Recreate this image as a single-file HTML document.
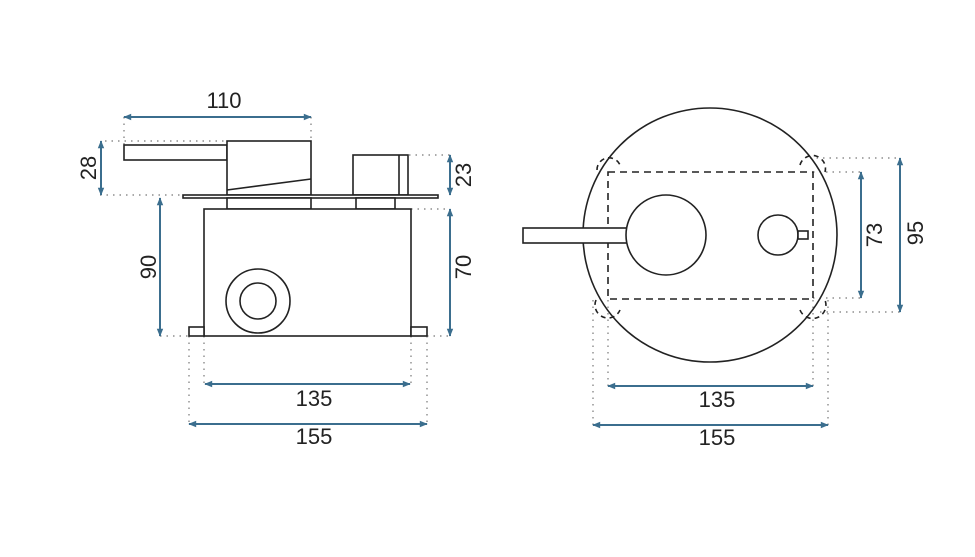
<!DOCTYPE html>
<html><head><meta charset="utf-8"><style>
html,body{margin:0;padding:0;background:#fff;}
svg{display:block;}
text{font-family:"Liberation Sans",sans-serif;font-size:22px;fill:#222;}
</style></head><body>
<svg width="975" height="557" viewBox="0 0 975 557" xmlns="http://www.w3.org/2000/svg">
<defs>
<marker id="a" viewBox="0 0 10 10" refX="9" refY="5" markerWidth="11" markerHeight="8" orient="auto-start-reverse" markerUnits="userSpaceOnUse">
<path d="M0,1 L10,5 L0,9 Z" fill="#3b6e8e"/></marker>
</defs>
<rect width="975" height="557" fill="#fff"/>
<g stroke="#777" stroke-width="1.2" stroke-dasharray="1.5 5" fill="none">
<line x1="124" y1="117" x2="124" y2="145"/>
<line x1="311" y1="117" x2="311" y2="141"/>
<line x1="105" y1="141" x2="227" y2="141"/>
<line x1="100" y1="195" x2="183" y2="195"/>
<line x1="409" y1="155" x2="450" y2="155"/>
<line x1="411" y1="209" x2="450" y2="209"/>
<line x1="160" y1="336" x2="189" y2="336"/>
<line x1="427" y1="336" x2="450" y2="336"/>
<line x1="189" y1="336" x2="189" y2="424"/>
<line x1="204" y1="336" x2="204" y2="384"/>
<line x1="411" y1="336" x2="411" y2="384"/>
<line x1="427" y1="336" x2="427" y2="424"/>
<line x1="810" y1="158" x2="901" y2="158"/>
<line x1="813" y1="172" x2="861" y2="172"/>
<line x1="813" y1="298" x2="861" y2="298"/>
<line x1="820" y1="312" x2="901" y2="312"/>
<line x1="593" y1="300" x2="593" y2="425"/>
<line x1="608" y1="300" x2="608" y2="386"/>
<line x1="813" y1="300" x2="813" y2="386"/>
<line x1="828" y1="300" x2="828" y2="425"/>
</g>
<g stroke="#3b6e8e" stroke-width="2" marker-start="url(#a)" marker-end="url(#a)">
<line x1="124" y1="117" x2="311" y2="117"/>
<line x1="101" y1="141" x2="101" y2="195"/>
<line x1="160" y1="198" x2="160" y2="336"/>
<line x1="450" y1="155" x2="450" y2="195"/>
<line x1="450" y1="209" x2="450" y2="336"/>
<line x1="205" y1="384" x2="410" y2="384"/>
<line x1="189" y1="424" x2="427" y2="424"/>
<line x1="861" y1="172" x2="861" y2="298"/>
<line x1="900" y1="158" x2="900" y2="312"/>
<line x1="608" y1="386" x2="813" y2="386"/>
<line x1="593" y1="425" x2="828" y2="425"/>
</g>
<g stroke="#222" stroke-width="1.6" fill="#fff">
<rect x="124" y="145" width="103" height="15"/>
<rect x="227" y="141" width="84" height="54"/>
<line x1="227" y1="190" x2="311" y2="179"/>
<rect x="353" y="155" width="55" height="40"/>
<line x1="399" y1="155" x2="399" y2="195"/>
<rect x="183" y="195" width="255" height="3"/>
<rect x="227" y="198" width="84" height="11"/>
<rect x="356" y="198" width="39" height="11"/>
<rect x="204" y="209" width="207" height="127"/>
<rect x="189" y="327" width="15" height="9"/>
<rect x="411" y="327" width="16" height="9"/>
<circle cx="258" cy="301" r="32"/>
<circle cx="258" cy="301" r="18"/>
</g>
<g stroke="#222" stroke-width="1.6" fill="none">
<circle cx="710" cy="235" r="127"/>
<rect x="608" y="172" width="205" height="127" stroke-dasharray="7 5"/>
<path d="M597,170 A12,12 0 0 1 620,165" stroke-dasharray="5 4"/>
<path d="M800,165 A12,12 0 0 1 825,172" stroke-dasharray="5 4"/>
<path d="M596,300 A12,12 0 0 0 620,310" stroke-dasharray="5 4"/>
<path d="M800,310 A12,12 0 0 0 825,300" stroke-dasharray="5 4"/>
<rect x="523" y="228" width="104" height="15" fill="#fff"/>
<circle cx="666" cy="235" r="40" fill="#fff"/>
<circle cx="778" cy="235" r="20" fill="#fff"/>
<rect x="798" y="231" width="10" height="8" fill="#fff"/>
</g>
<text x="224" y="108" text-anchor="middle">110</text>
<text transform="translate(96,168) rotate(-90)" text-anchor="middle">28</text>
<text transform="translate(156,267) rotate(-90)" text-anchor="middle">90</text>
<text transform="translate(471,175) rotate(-90)" text-anchor="middle">23</text>
<text transform="translate(471,267) rotate(-90)" text-anchor="middle">70</text>
<text x="314" y="406" text-anchor="middle">135</text>
<text x="314" y="444" text-anchor="middle">155</text>
<text transform="translate(882,235) rotate(-90)" text-anchor="middle">73</text>
<text transform="translate(923,233) rotate(-90)" text-anchor="middle">95</text>
<text x="717" y="407" text-anchor="middle">135</text>
<text x="717" y="445" text-anchor="middle">155</text>
</svg>
</body></html>
